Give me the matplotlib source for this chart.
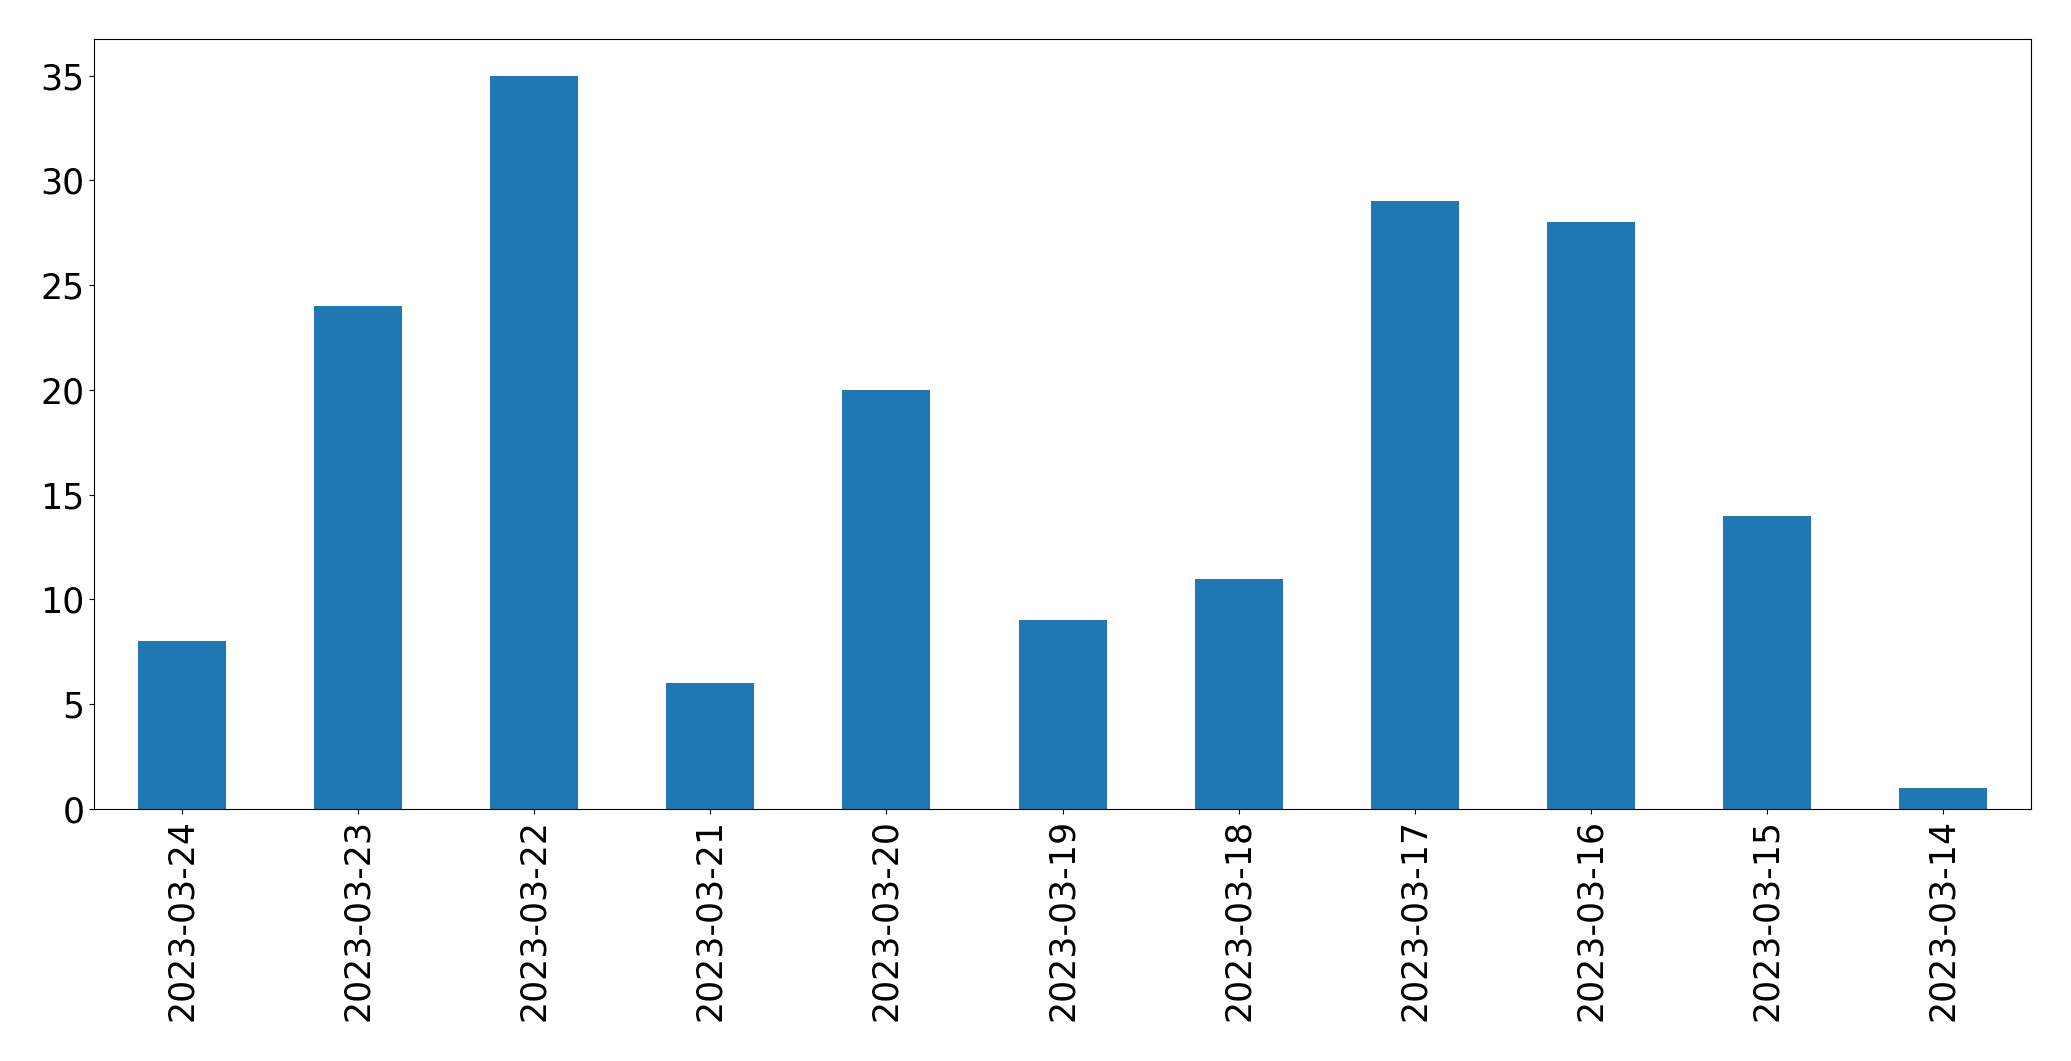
import matplotlib
matplotlib.use("Agg")
import matplotlib.pyplot as plt
import pandas as pd

dates = ["2023-03-24", "2023-03-23", "2023-03-22", "2023-03-21", "2023-03-20",
         "2023-03-19", "2023-03-18", "2023-03-17", "2023-03-16", "2023-03-15",
         "2023-03-14"]
counts = [8, 24, 35, 6, 20, 9, 11, 29, 28, 14, 1]

plt.rc('font', size=25)

s = pd.Series(counts, index=dates)
fig, ax = plt.subplots(figsize=(20.71, 10.61), dpi=100)
s.plot(kind='bar', ax=ax, color='#1f77b4')
fig.subplots_adjust(left=0.0454, right=0.9807, top=0.9632, bottom=0.2375)
fig.savefig('out.png', dpi=100)
